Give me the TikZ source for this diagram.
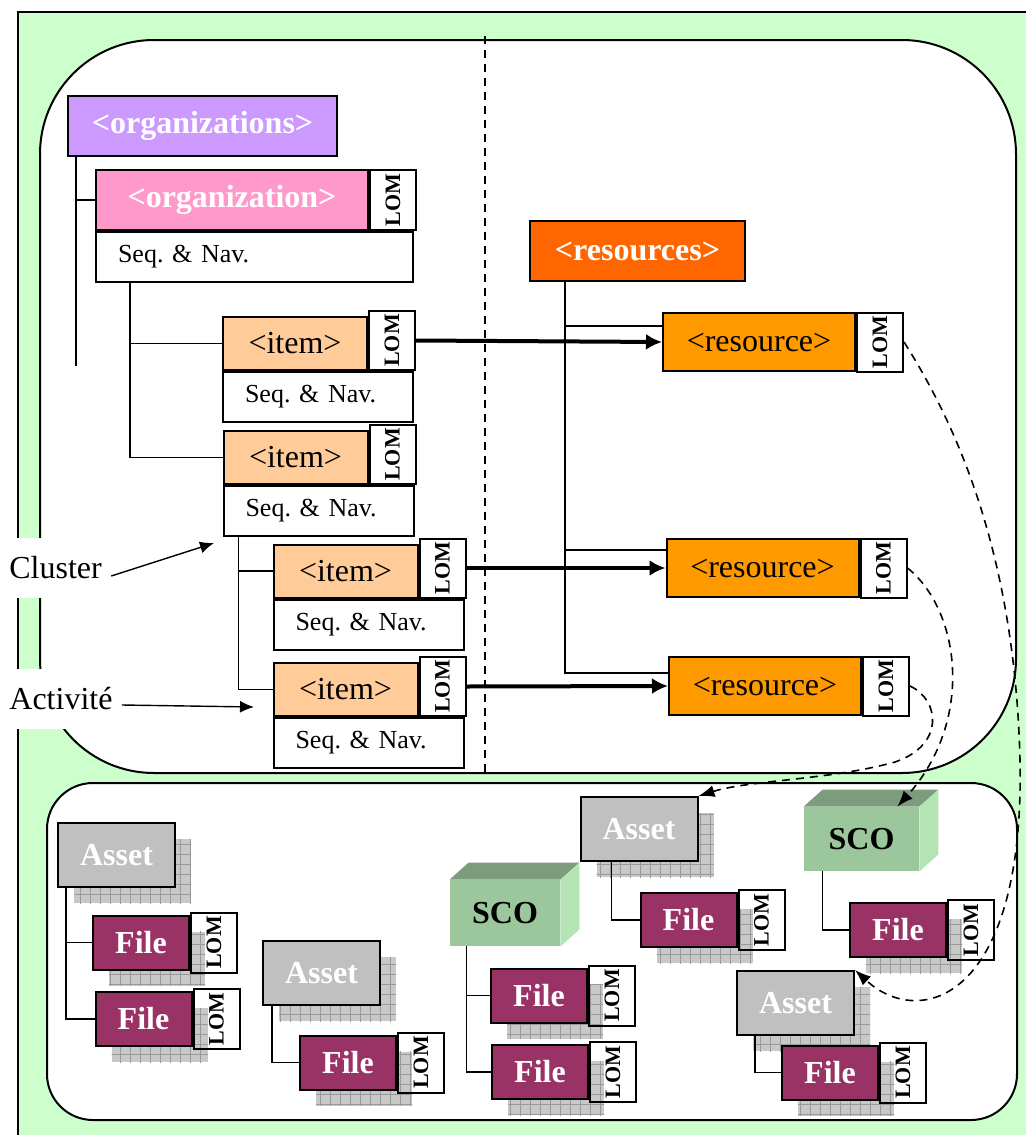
\documentclass[tikz,border=0pt]{standalone}
\usepackage{fontspec}
\setmainfont{Liberation Serif}
\usepackage{graphicx}
\usetikzlibrary{arrows.meta,patterns.meta}
\definecolor{BackClr}{HTML}{CCFFCC}
\definecolor{OrgsClr}{HTML}{CC99FF}
\definecolor{OrgClr}{HTML}{FF99CC}
\definecolor{ItemClr}{HTML}{FFCC99}
\definecolor{RessClr}{HTML}{FF6600}
\definecolor{ResClr}{HTML}{FF9900}
\definecolor{AssetClr}{HTML}{C0C0C0}
\definecolor{FileClr}{HTML}{993366}
\definecolor{ScoClr}{HTML}{9CC79C}
\definecolor{ScoTopClr}{HTML}{7C9C7C}
\definecolor{ScoSideClr}{HTML}{B4E4B4}
\definecolor{GridClr}{HTML}{C8C8C8}
\newcommand{\lomtxt}{\rotatebox{90}{LOM}}
\frenchspacing

\tikzset{
 box/.style={draw,line width=1pt,inner sep=0pt},
 big/.style={font=\fontsize{16}{18}\selectfont},
 bigbf/.style={font=\fontsize{16}{18}\selectfont\bfseries},
 headbox/.style={box,bigbf,text=white,minimum height=30pt},
 itembox/.style={box,big,fill=ItemClr,minimum width=72pt,minimum height=26.5pt},
 lombox/.style={box,font=\fontsize{11}{12}\selectfont\bfseries,minimum width=23pt,minimum height=29.5pt},
 seqbox/.style={box,fill=white,font=\fontsize{13}{15}\selectfont,inner xsep=11pt,text width=73pt,align=left,minimum height=25pt},
 resbox/.style={box,big,fill=ResClr,minimum width=96pt,minimum height=29pt},
 gridshadow/.style={preaction={fill=GridClr,transform canvas={xshift=8pt,yshift=-8pt}},
   preaction={pattern={Lines[angle=0,distance=5pt,line width=.5pt]},pattern color=gray!80,transform canvas={xshift=8pt,yshift=-8pt}},
   preaction={pattern={Lines[angle=90,distance=5pt,line width=.5pt]},pattern color=gray!80,transform canvas={xshift=8pt,yshift=-8pt}}},
 assetbox/.style={box,bigbf,gridshadow,fill=AssetClr,text=white,minimum width=58.5pt,minimum height=32pt},
 filebox/.style={box,bigbf,gridshadow,fill=FileClr,text=white,minimum width=48pt,minimum height=27pt},
 scobox/.style={bigbf,fill=ScoClr,inner sep=0pt,minimum width=55pt,minimum height=33pt},
 tree/.style={line width=.8pt},
 link/.style={line width=2pt,-{Latex[length=8pt,width=8pt]}},
 note/.style={line width=.7pt,-{Latex[length=7pt,width=6pt]}},
 ref/.style={line width=.8pt,dash pattern=on 4pt off 3pt,-{Latex[length=8pt,width=6pt]}},
}

\begin{document}
\begin{tikzpicture}[x=0.5pt,y=-0.5pt]
\useasboundingbox (0,0) rectangle (1026,1135);

% frames
\draw[line width=1pt,fill=BackClr] (18,12) rectangle (1040,1150);
\draw[line width=1pt,fill=white,rounded corners=57pt] (40,40) rectangle (1016,773);
\draw[line width=1pt,fill=white,rounded corners=23pt] (47,783) rectangle (1017,1120);
\draw[line width=.8pt,dash pattern=on 4pt off 3pt] (485,36) -- (485,772);

% organizations
\node[headbox,fill=OrgsClr,minimum width=134.5pt] (orgs) at (202.5,126) {<organizations>};
\node[headbox,fill=OrgClr,minimum width=136pt] (org) at (232,200) {<organization>};
\node[lombox,minimum height=30pt,anchor=west] (orglom) at (org.east) {\lomtxt};
\node[seqbox,text width=136.5pt,anchor=north west] (orgseq) at (org.south west) {Seq. \& Nav.};

\node[itembox] (item1) at (295,343.5) {<item>};
\node[lombox,anchor=south west] (item1lom) at (item1.south east) {\lomtxt};
\node[seqbox,anchor=north west] (item1seq) at (item1.south west) {Seq. \& Nav.};

\node[itembox] (item2) at (295.5,457.5) {<item>};
\node[lombox,anchor=south west] (item2lom) at (item2.south east) {\lomtxt};
\node[seqbox,anchor=north west] (item2seq) at (item2.south west) {Seq. \& Nav.};

\node[itembox] (item3) at (345.5,571) {<item>};
\node[lombox,anchor=south west] (item3lom) at (item3.south east) {\lomtxt};
\node[seqbox,anchor=north west] (item3seq) at (item3.south west) {Seq. \& Nav.};

\node[itembox] (item4) at (345.5,689.5) {<item>};
\node[lombox,anchor=south west] (item4lom) at (item4.south east) {\lomtxt};
\node[seqbox,anchor=north west] (item4seq) at (item4.south west) {Seq. \& Nav.};

\draw[tree] ([xshift=4.5pt]orgs.south west) -- ++(0,209);
\draw[tree] ([xshift=4.5pt]orgs.south west) |- (org.west);
\draw[tree] ([xshift=17.5pt]orgseq.south west) |- (item1.west);
\draw[tree] ([xshift=17.5pt]orgseq.south west) |- (item2.west);
\draw[tree] ([xshift=8pt]item2seq.south west) |- (item3.west);
\draw[tree] ([xshift=8pt]item2seq.south west) |- (item4.west);

% resources
\node[headbox,fill=RessClr,minimum width=107.5pt] (ress) at (637.5,251) {<resources>};
\node[resbox] (res1) at (759,342) {<resource>};
\node[lombox,anchor=west] (res1lom) at (res1.east) {\lomtxt};
\node[resbox] (res2) at (762.5,568) {<resource>};
\node[lombox,anchor=west] (res2lom) at (res2.east) {\lomtxt};
\node[resbox] (res3) at (765,686) {<resource>};
\node[lombox,anchor=west] (res3lom) at (res3.east) {\lomtxt};

\draw[tree] ([xshift=18pt]ress.south west) |- ([yshift=8pt]res1.west);
\draw[tree] ([xshift=18pt]ress.south west) |- ([yshift=9pt]res2.west);
\draw[tree] ([xshift=18pt]ress.south west) |- ([yshift=6.5pt]res3.west);

\draw[link] (item1lom.east) -- (res1.west);
\draw[link] (item3lom.east) -- (res2.west);
\draw[link] (item4lom.east) -- (res3.west);

% labels on the left
\node[fill=white,big,inner xsep=4.5pt,inner ysep=0pt,minimum height=30pt,anchor=west] (cluster) at (0,568) {Cluster};
\node[fill=white,big,inner xsep=4.5pt,inner ysep=0pt,minimum height=30pt,anchor=west] (activite) at (0,699) {Activité};
\coordinate (clusterend) at (214,543);
\coordinate (activend) at (254,707);
\draw[note] ([yshift=-4pt]cluster.east) -- (clusterend);
\draw[note] ([yshift=-3pt]activite.east) -- (activend);

% content packages
\node[assetbox] (asset1) at (116.5,855) {Asset};
\node[filebox] (file1) at (141,942.5) {File};
\node[lombox,minimum height=30pt,anchor=west] (file1lom) at (file1.east) {\lomtxt};
\node[filebox] (file2) at (143.5,1019) {File};
\node[lombox,minimum height=30pt,anchor=west] (file2lom) at (file2.east) {\lomtxt};

\node[assetbox] (asset2) at (321.5,973) {Asset};
\node[filebox] (file3) at (348,1062.5) {File};
\node[lombox,minimum height=30pt,anchor=west] (file3lom) at (file3.east) {\lomtxt};

\node[scobox] (sco1) at (505,913) {SCO};
\node[filebox] (file6) at (539,995.5) {File};
\node[lombox,minimum height=30pt,anchor=west] (file6lom) at (file6.east) {\lomtxt};
\node[filebox] (file7) at (540,1072) {File};
\node[lombox,minimum height=30pt,anchor=west] (file7lom) at (file7.east) {\lomtxt};

\node[assetbox] (asset3) at (639,829) {Asset};
\node[filebox] (file4) at (688.5,920) {File};
\node[lombox,minimum height=30pt,anchor=west] (file4lom) at (file4.east) {\lomtxt};

\node[scobox,minimum width=57.5pt,minimum height=32pt] (sco2) at (861.5,839) {SCO};
\node[filebox] (file5) at (898,930) {File};
\node[lombox,minimum height=30pt,anchor=west] (file5lom) at (file5.east) {\lomtxt};

\node[assetbox] (asset4) at (795.5,1003) {Asset};
\node[filebox] (file8) at (830,1072.5) {File};
\node[lombox,minimum height=30pt,anchor=west] (file8lom) at (file8.east) {\lomtxt};

\foreach \s in {sco1,sco2} {
  \fill[ScoTopClr] (\s.north west) -- ++(19,-17) -- ([shift={(19,-17)}]\s.north east) -- (\s.north east) -- cycle;
  \fill[ScoSideClr] (\s.north east) -- ++(19,-17) -- ([shift={(19,-17)}]\s.south east) -- (\s.south east) -- cycle;
}

\draw[tree] ([xshift=4.5pt]asset1.south west) |- (file1.west);
\draw[tree] ([xshift=4.5pt]asset1.south west) |- (file2.west);
\draw[tree] ([xshift=5pt]asset2.south west) |- (file3.west);
\draw[tree] ([xshift=8.5pt]sco1.south west) |- (file6.west);
\draw[tree] ([xshift=8.5pt]sco1.south west) |- (file7.west);
\draw[tree] ([xshift=16pt]asset3.south west) |- (file4.west);
\draw[tree] ([xshift=9.5pt]sco2.south west) |- (file5.west);
\draw[tree] ([xshift=9.5pt]asset4.south west) |- (file8.west);

% references
\draw[ref] (res1lom.east) .. controls (960,430) and (1015,560) .. (1020,760)
  .. controls (1025,1000) and (920,1030) .. (asset4.north east);
\draw[ref] (res2lom.east) .. controls (960,610) and (975,720) .. ([xshift=-11pt]sco2.north east);
\draw[ref] (res3lom.east) .. controls (940,700) and (945,745) .. (895,762)
  .. controls (830,780) and (750,780) .. (asset3.north east);

\end{tikzpicture}
\end{document}
